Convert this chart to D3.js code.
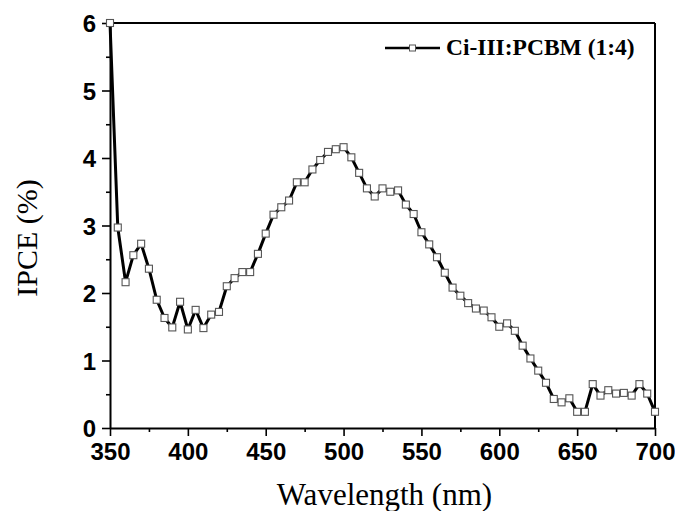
<!DOCTYPE html>
<html>
<head>
<meta charset="utf-8">
<script src="https://cdn.jsdelivr.net/npm/d3@7"></script>
<style>
  body { margin: 0; background: #fff; }
  svg { display: block; }
</style>
</head>
<body>
<div id="chart"></div>
<script>
// wavelength (nm) and IPCE (%)
const wavelengths = d3.range(350, 701, 5)
const ipce = [
  6.0, 2.97, 2.16, 2.56, 2.73, 2.36, 1.90, 1.63, 1.49, 1.87,
  1.46, 1.75, 1.48, 1.68, 1.72, 2.10, 2.22, 2.31, 2.31, 2.58,
  2.88, 3.16, 3.27, 3.37, 3.64, 3.64, 3.83, 3.97, 4.09, 4.13,
  4.16, 4.01, 3.78, 3.55, 3.43, 3.55, 3.50, 3.52, 3.31, 3.17,
  2.90, 2.72, 2.53, 2.30, 2.08, 1.96, 1.85, 1.77, 1.74, 1.64,
  1.50, 1.55, 1.44, 1.22, 1.03, 0.85, 0.67, 0.43, 0.38, 0.44,
  0.24, 0.24, 0.65, 0.48, 0.56, 0.51, 0.52, 0.48, 0.65, 0.51,
  0.24
]
const xTicks = [350, 400, 450, 500, 550, 600, 650, 700]
const xMinor = [375, 425, 475, 525, 575, 625, 675]
const yTicks = [0, 1, 2, 3, 4, 5, 6]
const yMinor = [0.5, 1.5, 2.5, 3.5, 4.5, 5.5]
const seriesName = 'Ci-III:PCBM (1:4)'

const width = 675, height = 511
const margin = { left: 110, right: 20, top: 23, bottom: 83 }
const plotW = width - margin.left - margin.right
const plotH = height - margin.top - margin.bottom

const svg = d3.select('#chart').append('svg')
  .attr('width', width)
  .attr('height', height)

const g = svg.append('g')
  .attr('transform', `translate(${margin.left},${margin.top})`)

const x = d3.scaleLinear().domain([350, 700]).range([0, plotW])
const y = d3.scaleLinear().domain([0, 6]).range([plotH, 0])

const data = wavelengths.map((w, i) => ({ w: w, v: ipce[i] }))

// minor ticks first, then the major axis on top
g.append('g')
  .attr('transform', `translate(0,${plotH})`)
  .call(d3.axisBottom(x).tickValues(xMinor).tickSize(4).tickFormat(''))
  .call(a => a.select('.domain').remove())
g.append('g')
  .call(d3.axisLeft(y).tickValues(yMinor).tickSize(4).tickFormat(''))
  .call(a => a.select('.domain').remove())

const xAxis = g.append('g')
  .attr('transform', `translate(0,${plotH})`)
  .call(d3.axisBottom(x).tickValues(xTicks).tickSize(8).tickSizeOuter(0)
    .tickPadding(6).tickFormat(d3.format('d')))
const yAxis = g.append('g')
  .call(d3.axisLeft(y).tickValues(yTicks).tickSize(8).tickSizeOuter(0)
    .tickPadding(6).tickFormat(d3.format('d')))

g.selectAll('.tick line').attr('stroke', '#000').attr('stroke-width', 1.6)
g.selectAll('.domain').attr('stroke', '#000').attr('stroke-width', 2)
g.selectAll('.tick text')
  .attr('fill', '#000')
  .attr('font-family', '"Liberation Sans", Arial, sans-serif')
  .attr('font-weight', 'bold')
  .attr('font-size', 24)
xAxis.selectAll('.tick text').attr('dy', '0.74em')
yAxis.selectAll('.tick text').attr('dy', '0.36em')

// top and right frame lines
g.append('line')
  .attr('x1', 0).attr('x2', plotW).attr('y1', 0).attr('y2', 0)
  .attr('stroke', '#000').attr('stroke-width', 2)
g.append('line')
  .attr('x1', plotW).attr('x2', plotW).attr('y1', 0).attr('y2', plotH)
  .attr('stroke', '#000').attr('stroke-width', 2)

const line = d3.line()
  .x(d => x(d.w))
  .y(d => y(d.v))

g.append('path')
  .datum(data)
  .attr('fill', 'none')
  .attr('stroke', '#000')
  .attr('stroke-width', 3)
  .attr('stroke-linejoin', 'round')
  .attr('d', line)

const ms = 7
g.selectAll('.pt')
  .data(data)
  .enter()
  .append('rect')
  .attr('class', 'pt')
  .attr('x', d => x(d.w) - ms / 2)
  .attr('y', d => y(d.v) - ms / 2)
  .attr('width', ms)
  .attr('height', ms)
  .attr('fill', '#fff')
  .attr('stroke', '#555')
  .attr('stroke-width', 1.1)

// legend
const lg = svg.append('g').attr('transform', 'translate(385,48)')
lg.append('line')
  .attr('x1', 0).attr('x2', 55).attr('y1', 0).attr('y2', 0)
  .attr('stroke', '#000').attr('stroke-width', 2.5)
lg.append('rect')
  .attr('x', 27.5 - 3).attr('y', -3).attr('width', 6).attr('height', 6)
  .attr('fill', '#fff').attr('stroke', '#555').attr('stroke-width', 1)
lg.append('text')
  .attr('x', 61).attr('y', 7)
  .attr('font-family', '"Liberation Serif", "Times New Roman", serif')
  .attr('font-weight', 'bold')
  .attr('font-size', 23.5)
  .text(seriesName)

// axis titles
svg.append('text')
  .attr('x', margin.left + plotW / 2 + 2)
  .attr('y', 505)
  .attr('text-anchor', 'middle')
  .attr('font-family', '"Liberation Serif", "Times New Roman", serif')
  .attr('font-size', 31)
  .text('Wavelength (nm)')

svg.append('text')
  .attr('transform', 'translate(37,238) rotate(-90)')
  .attr('text-anchor', 'middle')
  .attr('font-family', '"Liberation Serif", "Times New Roman", serif')
  .attr('font-size', 30)
  .text('IPCE (%)')
</script>
</body>
</html>
